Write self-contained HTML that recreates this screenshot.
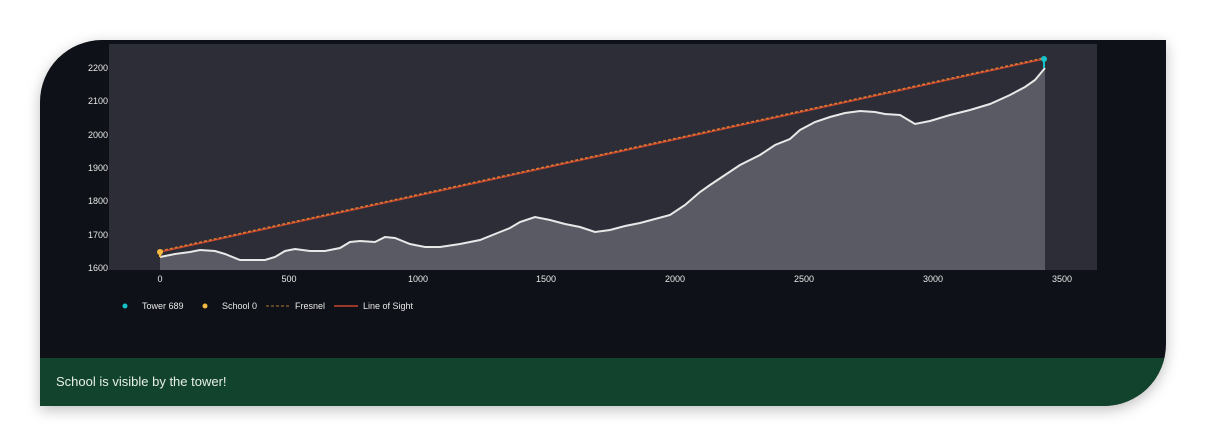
<!DOCTYPE html>
<html><head><meta charset="utf-8"><style>
body{margin:0;width:1206px;height:446px;background:#fff;overflow:hidden;font-family:"Liberation Sans",sans-serif}
.panel{position:absolute;left:40px;top:40px;width:1126px;height:366px;background:#0e1117;border-radius:62px 0 62px 0;overflow:hidden;box-shadow:0 4px 14px rgba(0,0,0,0.25)}
.msg{position:absolute;left:0;top:318px;width:1126px;height:48px;background:#12432c;color:#e8efe9;font-size:13px;line-height:48px;padding-left:16px;box-sizing:border-box}
</style></head><body>
<div class="panel">
<svg width="1126" height="366" style="position:absolute;left:0;top:0" font-family="Liberation Sans, sans-serif" font-size="9" fill="#e8e8e8">
<g transform="translate(-40,-40)">
<rect x="109" y="44" width="988" height="226" fill="#2d2d38"/>
<g text-anchor="end">
<text x="108" y="71">2200</text><text x="108" y="104">2100</text><text x="108" y="138">2000</text>
<text x="108" y="171">1900</text><text x="108" y="204">1800</text><text x="108" y="238">1700</text><text x="108" y="271">1600</text>
</g>
<g text-anchor="middle">
<text x="160" y="282">0</text><text x="289" y="282">500</text><text x="418" y="282">1000</text><text x="546" y="282">1500</text>
<text x="675" y="282">2000</text><text x="804" y="282">2500</text><text x="933" y="282">3000</text><text x="1062" y="282">3500</text>
</g>
<path d="M160,257 L175,254 190,252 200,250 215,251 225,254 240,260 265,260 275,257 285,251 295,249 310,251 325,251 340,248 350,242 360,241 375,242 385,237 395,238 410,244 425,247 440,247 460,244 480,240 500,232 510,228 520,222 535,217 550,220 565,224 580,227 595,232 610,230 625,226 640,223 655,219 670,215 685,205 700,192 710,185 725,175 740,165 760,155 775,145 790,139 800,130 815,122 830,117 845,113 860,111 875,112 885,114 900,115 915,124 930,121 950,115 970,110 990,104 1010,95 1025,87 1035,80 1045,68 L1045,270 L160,270 Z" fill="#5a5a64"/>
<path d="M160,257 L175,254 190,252 200,250 215,251 225,254 240,260 265,260 275,257 285,251 295,249 310,251 325,251 340,248 350,242 360,241 375,242 385,237 395,238 410,244 425,247 440,247 460,244 480,240 500,232 510,228 520,222 535,217 550,220 565,224 580,227 595,232 610,230 625,226 640,223 655,219 670,215 685,205 700,192 710,185 725,175 740,165 760,155 775,145 790,139 800,130 815,122 830,117 845,113 860,111 875,112 885,114 900,115 915,124 930,121 950,115 970,110 990,104 1010,95 1025,87 1035,80 1045,68" fill="none" stroke="#e8e8e8" stroke-width="2"/>
<line x1="160" y1="252" x2="1044" y2="59" stroke="#c8452e" stroke-width="1.5"/>
<line x1="160" y1="251" x2="1044" y2="58" stroke="#e07a30" stroke-width="1.5" stroke-dasharray="3,2"/>
<line x1="1044" y1="59" x2="1044" y2="68" stroke="#17c3c8" stroke-width="2"/>
<line x1="160" y1="252" x2="160" y2="257" stroke="#f5b942" stroke-width="2"/>
<circle cx="1044" cy="59" r="3" fill="#17c3c8"/>
<circle cx="160" cy="252" r="3" fill="#f5b942"/>
<g font-size="9">
<circle cx="125" cy="306" r="2.5" fill="#17c3c8"/><text x="142" y="309">Tower 689</text>
<circle cx="205" cy="306" r="2.5" fill="#f5b942"/><text x="222" y="309">School 0</text>
<line x1="266" y1="306" x2="290" y2="306" stroke="#b07a3a" stroke-dasharray="3,2"/><text x="295" y="309">Fresnel</text>
<line x1="334" y1="306" x2="358" y2="306" stroke="#c8452e" stroke-width="1.5"/><text x="363" y="309">Line of Sight</text>
</g>
</g>
</svg>
<div class="msg">School is visible by the tower!</div>
</div>
</body></html>
